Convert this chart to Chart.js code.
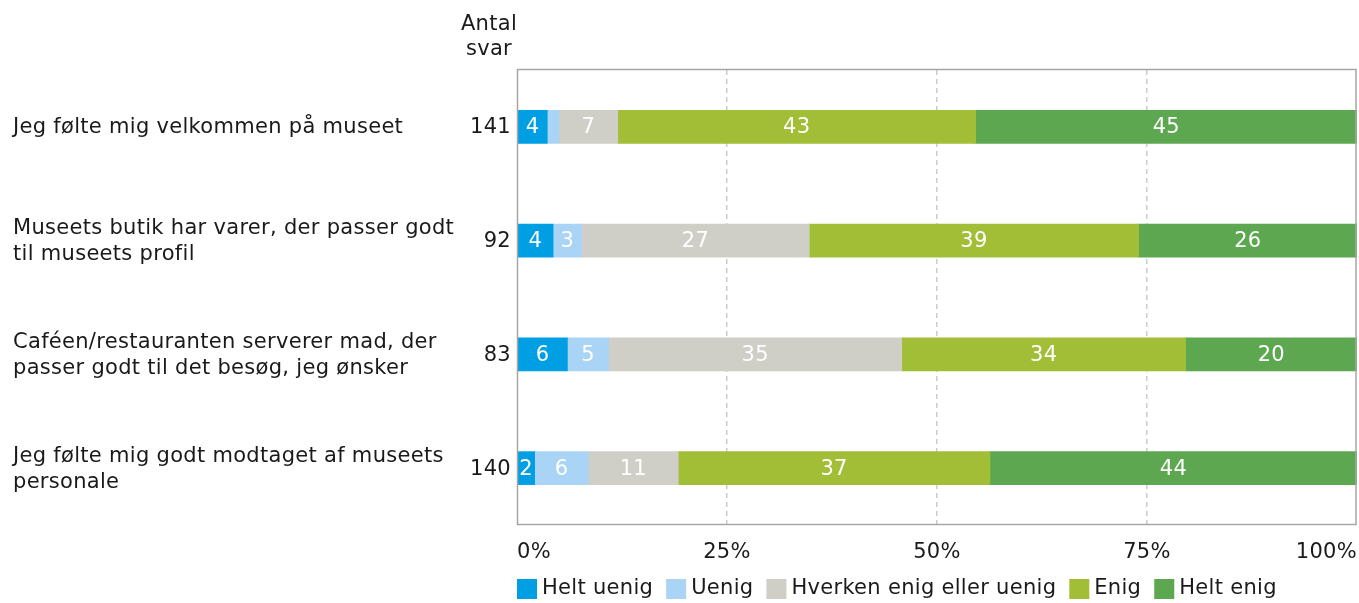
<!DOCTYPE html>
<html>
<head>
<meta charset="utf-8">
<script src="https://cdn.jsdelivr.net/npm/chart.js@4.4.1/dist/chart.umd.min.js"></script>
<style>
html,body{margin:0;padding:0;background:#fff;overflow:hidden;}
#wrap{width:1359px;height:603px;position:relative;}
canvas{display:block;}
</style>
</head>
<body>
<div id="wrap"><canvas id="c" width="1359" height="603" style="width:1359px;height:603px"></canvas></div>
<script>
const categories = [
  ["Jeg følte mig velkommen på museet"],
  ["Museets butik har varer, der passer godt", "til museets profil"],
  ["Caféen/restauranten serverer mad, der", "passer godt til det besøg, jeg ønsker"],
  ["Jeg følte mig godt modtaget af museets", "personale"]
];
const counts = [141, 92, 83, 140];
const seriesNames = ["Helt uenig", "Uenig", "Hverken enig eller uenig", "Enig", "Helt enig"];
const heltUenig = [3.6, 4.3, 6.0, 2.1];
const uenig     = [1.4, 3.4, 4.9, 6.4];
const hverken   = [7.0, 27.1, 34.9, 10.7];
const enig      = [42.6, 39.2, 33.8, 37.1];
const heltEnig  = [45.4, 26.0, 20.4, 43.7];
const xTicks = [0, 25, 50, 75, 100];
const colors = ["#009fe3", "#a9d4f5", "#cfcfc7", "#a2be37", "#5ca750"];

const FONT = '"DejaVu Sans", Verdana, sans-serif';
const FS = 21;
const LS = '0.3px';
const TXT = '#1a1a1a';

const seriesValues = [heltUenig, uenig, hverken, enig, heltEnig];

const overlay = {
  id: 'overlay',
  beforeDraw(chart) {
    chart.ctx.letterSpacing = LS;
  },
  afterDraw(chart) {
    const ctx = chart.ctx;
    const ca = chart.chartArea;
    ctx.save();
    ctx.letterSpacing = LS;
    // plot box
    ctx.strokeStyle = '#a6a6a6';
    ctx.lineWidth = 1.5;
    ctx.strokeRect(Math.round(ca.left) + 0.5, Math.round(ca.top) - 0.5,
                   Math.round(ca.right - ca.left) - 1.5, Math.round(ca.bottom - ca.top));
    ctx.font = FS + 'px ' + FONT;
    ctx.fillStyle = TXT;
    ctx.textBaseline = 'middle';
    // header
    ctx.textAlign = 'center';
    ctx.fillText('Antal', 489, 25);
    ctx.fillText('svar', 489, 50);
    const yScale = chart.scales.y;
    categories.forEach((lines, i) => {
      const yc = yScale.getPixelForValue(i);
      ctx.textAlign = 'right';
      ctx.fillStyle = TXT;
      ctx.fillText(String(counts[i]), 511, yc + 1);
      ctx.textAlign = 'left';
      const lh = 26;
      const y0 = yc - (lines.length - 1) * lh / 2;
      lines.forEach((ln, k) => ctx.fillText(ln, 13, y0 + k * lh + 1));
    });
    // data labels
    ctx.fillStyle = '#ffffff';
    ctx.textAlign = 'center';
    chart.data.datasets.forEach((ds, di) => {
      const meta = chart.getDatasetMeta(di);
      meta.data.forEach((bar, i) => {
        const v = ds.data[i];
        if (v < 2) return;
        const cx = (bar.x + bar.base) / 2;
        ctx.fillText(String(Math.round(v)), cx, bar.y + 1);
      });
    });
    // legend
    let x = 517;
    const by = 579, bs = 20;
    seriesNames.forEach((name, i) => {
      ctx.fillStyle = colors[i];
      ctx.fillRect(x, by, bs, bs);
      ctx.fillStyle = TXT;
      ctx.textAlign = 'left';
      ctx.fillText(name, x + bs + 5, by + bs / 2);
      x += bs + 5 + ctx.measureText(name).width + 13;
    });
    ctx.restore();
  }
};

new Chart(document.getElementById('c'), {
  type: 'bar',
  data: {
    labels: categories.map(c => c.join(' ')),
    datasets: seriesNames.map((n, i) => ({
      label: n,
      data: seriesValues[i],
      backgroundColor: colors[i],
      borderWidth: 0,
      barThickness: 33
    }))
  },
  options: {
    indexAxis: 'y',
    responsive: false,
    maintainAspectRatio: false,
    devicePixelRatio: 1,
    animation: false,
    layout: { padding: { left: 517, right: 2, top: 70, bottom: 28 } },
    plugins: { legend: { display: false }, tooltip: { enabled: false } },
    scales: {
      x: {
        stacked: true,
        min: 0, max: 100,
        afterBuildTicks(scale) { scale.ticks = xTicks.map(v => ({ value: v })); },
        afterFit(scale) { scale.height = 50; scale.paddingLeft = 0; scale.paddingRight = 0; },
        ticks: {
          align: 'inner',
          padding: 15,
          color: TXT,
          font: { family: FONT, size: FS },
          callback: v => v + '%'
        },
        grid: {
          drawTicks: false,
          color: c => (c.tick && (c.tick.value === 0 || c.tick.value === 100)) ? 'rgba(0,0,0,0)' : '#cccccc',
          lineWidth: 1.5
        },
        border: { display: false, dash: [5, 4] }
      },
      y: {
        stacked: true,
        display: false,
        grid: { display: false }
      }
    }
  },
  plugins: [overlay]
});
</script>
</body>
</html>
